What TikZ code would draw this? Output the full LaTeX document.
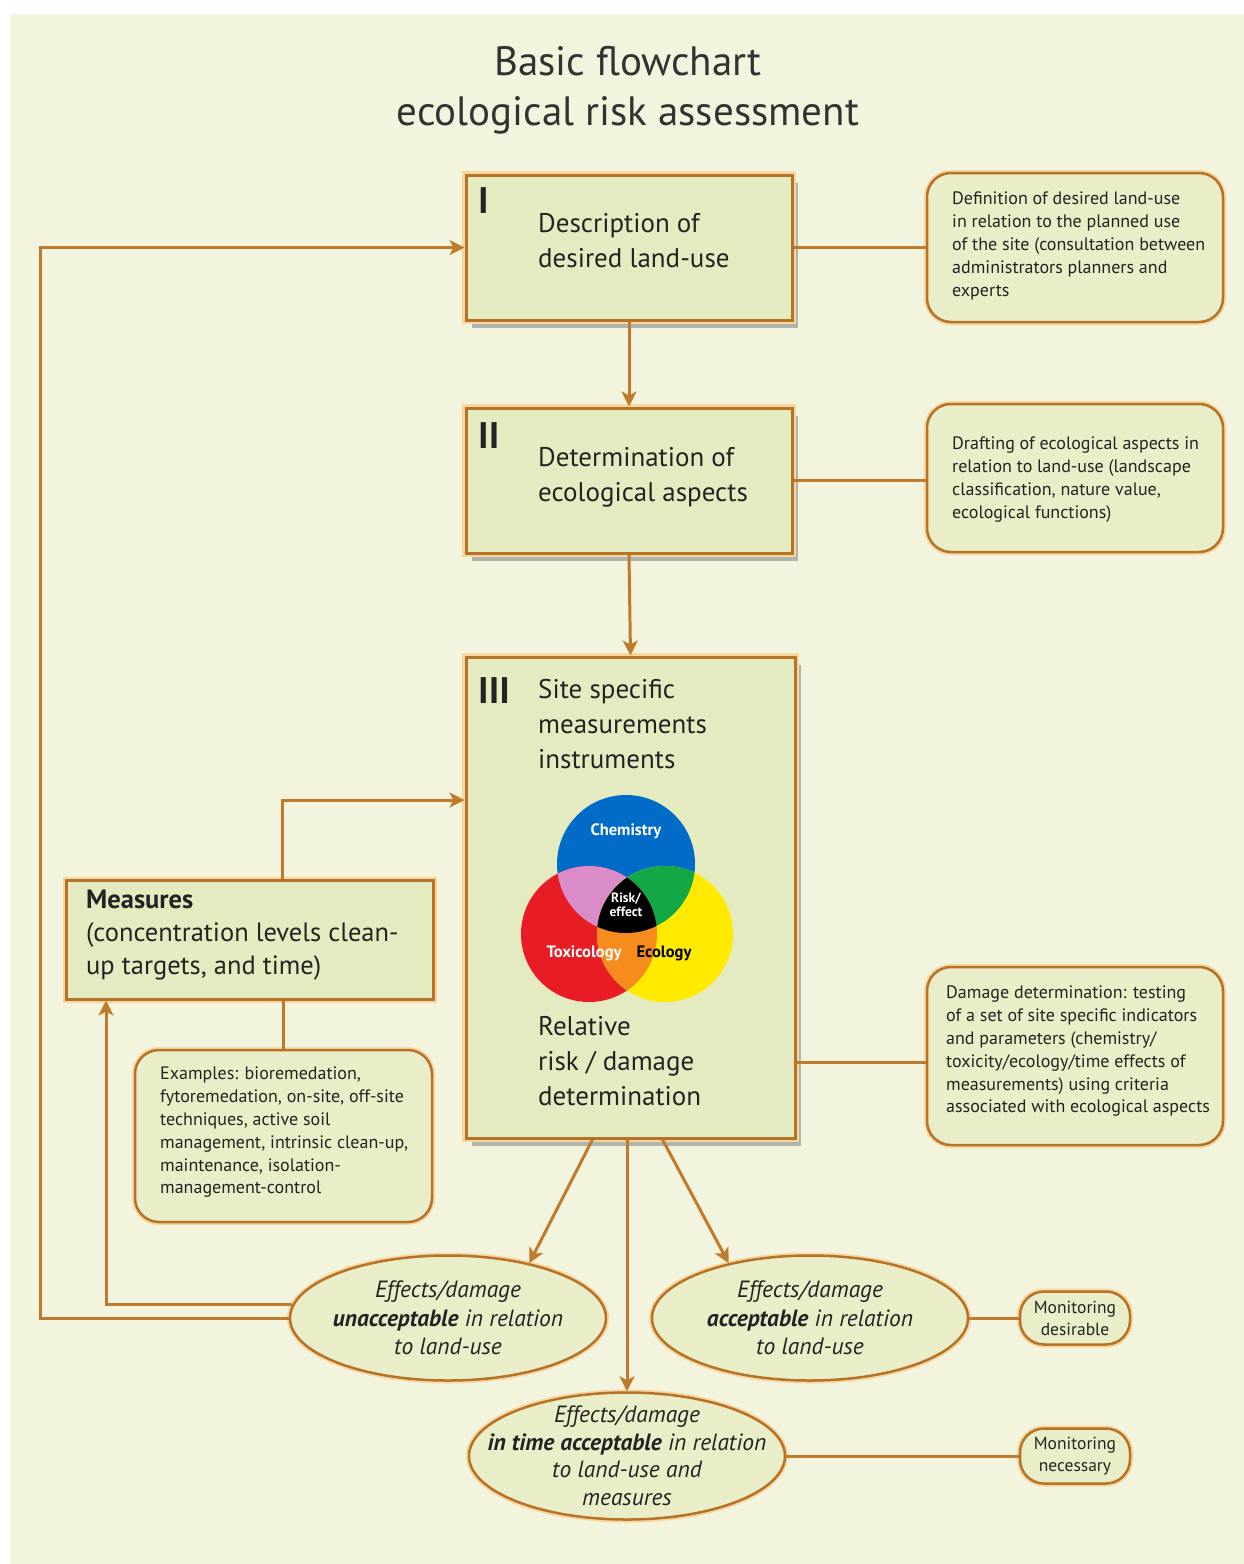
\documentclass[tikz,border=0pt]{standalone}
\usepackage{fontspec}
\setmainfont{PT Sans}
\usetikzlibrary{shapes.geometric,shadows,arrows.meta}
\definecolor{bgc}{RGB}{242,244,222}
\definecolor{boxfill}{RGB}{229,235,193}
\definecolor{sidefill}{RGB}{233,238,200}
\definecolor{brd}{RGB}{182,114,38}
\definecolor{arrc}{RGB}{192,122,44}
\definecolor{glow}{RGB}{248,214,160}
\definecolor{txt}{RGB}{35,35,35}
\definecolor{shad}{RGB}{95,105,115}
\definecolor{vblue}{RGB}{0,108,200}
\definecolor{vred}{RGB}{232,28,36}
\definecolor{vyellow}{RGB}{255,234,0}
\definecolor{vpink}{RGB}{218,140,200}
\definecolor{vgreen}{RGB}{18,168,70}
\definecolor{vorange}{RGB}{246,140,30}
\begin{document}
\begin{tikzpicture}[x=1pt,y=-1pt,
  mainbox/.style={rectangle, draw=brd, line width=3pt, fill=boxfill, inner sep=0pt,
    drop shadow={shadow xshift=6pt, shadow yshift=-8pt, opacity=0.45, fill=shad},
    preaction={draw=glow, line width=8pt}},
  sidebox/.style={rectangle, rounded corners=24pt, draw=brd, line width=2.5pt, fill=sidefill, inner sep=0pt,
    preaction={draw=glow, line width=6pt}},
  ellbox/.style={ellipse, draw=brd, line width=2.5pt, fill=sidefill, inner sep=0pt,
    preaction={draw=glow, line width=6pt}},
  elltxt/.style={inner sep=0pt, align=center, text=txt, font={\fontsize{23.5}{28.5}\selectfont\itshape}},
  monbox/.style={rectangle, rounded corners=24pt, draw=brd, line width=2.5pt, fill=sidefill, inner sep=0pt,
    align=center, text=txt, font={\fontsize{17.5}{22}\selectfont},
    preaction={draw=glow, line width=6pt}},
  bigtxt/.style={anchor=north west, inner sep=0pt, align=left, text=txt, font={\fontsize{27}{35}\selectfont}},
  numtxt/.style={anchor=north west, inner sep=0pt, text=txt, font={\fontsize{37}{37}\selectfont\bfseries}},
  smalltxt/.style={anchor=north west, inner sep=0pt, align=left, text=txt, font={\fontsize{18}{22.8}\selectfont}},
  conn/.style={draw=arrc, line width=3pt},
  arr/.style={conn, -{Stealth[length=15pt, width=15pt, inset=4pt]}},
  vlab/.style={inner sep=0pt, font={\fontsize{16.5}{17}\selectfont\bfseries}, align=center}
]
\useasboundingbox (0,0) rectangle (1244,1564);
\fill[white] (0,0) rectangle (1244,1564);
\fill[bgc] (10,14) rectangle (1244,1564);

% title
\node[align=center, inner sep=0pt, text={rgb,255:red,50;green,50;blue,50}, font={\fontsize{41}{50}\selectfont}] (title) at (628,90)
  {Basic flowchart\\ecological risk assessment};

% main boxes
\node[mainbox, minimum width=326, minimum height=145] (b1) at (629,247.5) {};
\node[mainbox, minimum width=326, minimum height=145] (b2) at (629,480.5) {};
\node[mainbox, minimum width=329, minimum height=481] (b3) at (630.5,897.5) {};

\node[numtxt] (n1) at (478,187) {I};
\node[bigtxt] (t1) at (538,213) {Description of\\desired land-use};
\node[numtxt] (n2) at (478,422) {II};
\node[bigtxt] (t2) at (538,447) {Determination of\\ecological aspects};
\node[numtxt] (n3) at (478,677) {III};
\node[bigtxt] (t3a) at (538,679) {Site specific\\measurements\\instruments};
\node[bigtxt] (t3b) at (538,1016) {Relative\\risk / damage\\determination};

% side boxes
\node[sidebox, minimum width=296, minimum height=149] (s1) at (1075,247.5) {};
\node[smalltxt] (st1) at (952,192) {Definition of desired land-use\\in relation to the planned use\\of the site (consultation between\\administrators planners and\\experts};
\node[sidebox, minimum width=296, minimum height=148] (s2) at (1075,478) {};
\node[smalltxt] (st2) at (952,437) {Drafting of ecological aspects in\\relation to land-use (landscape\\classification, nature value,\\ecological functions)};
\node[sidebox, minimum width=296, minimum height=178] (s3) at (1075,1056) {};
\node[smalltxt] (st3) at (946,986) {Damage determination: testing\\of a set of site specific indicators\\and parameters (chemistry/\\toxicity/ecology/time effects of\\measurements) using criteria\\associated with ecological aspects};

% measures
\node[rectangle, draw=brd, line width=3pt, fill=boxfill, inner sep=0pt, preaction={draw=glow, line width=7pt},
  minimum width=367, minimum height=119] (meas) at (249.5,939.5) {};
\node[anchor=north west, inner sep=0pt, align=left, text=txt, font={\fontsize{26.5}{33}\selectfont}] (mt) at (86,890)
  {\textbf{Measures}\\(concentration levels clean-\\up targets, and time)};
\node[sidebox, minimum width=297, minimum height=172] (ex) at (283.5,1136) {};
\node[smalltxt] (ext) at (160,1067) {Examples: bioremedation,\\fytoremedation, on-site, off-site\\techniques, active soil\\management, intrinsic clean-up,\\maintenance, isolation-\\management-control};

% Venn diagram
\fill[vblue] (626,864) circle (69);
\fill[vred] (589,934) circle (68);
\fill[vyellow] (665,934) circle (68);
\begin{scope}
  \clip (626,864) circle (69);
  \fill[vpink] (589,934) circle (68);
  \fill[vgreen] (665,934) circle (68);
\end{scope}
\begin{scope}
  \clip (589,934) circle (68);
  \fill[vorange] (665,934) circle (68);
  \clip (626,864) circle (69);
  \fill[black] (665,934) circle (68);
\end{scope}
\node[vlab, text=white] (vc) at (626,831) {Chemistry};
\node[vlab, text=white, font={\fontsize{13.5}{14.5}\selectfont\bfseries}] (vr) at (626,905) {Risk/\\effect};
\node[vlab, text=white] (vt) at (584,953) {Toxicology};
\node[vlab, text=black] (ve) at (664,953) {Ecology};

% ellipses
\node[ellbox, minimum width=316, minimum height=125] (e1) at (448,1318) {};
\node[elltxt] (e1t) at (e1.center) {Effects/damage\\\textbf{unacceptable} in relation\\to land-use};
\node[ellbox, minimum width=316, minimum height=125] (e2) at (810,1318) {};
\node[elltxt] (e2t) at (e2.center) {Effects/damage\\\textbf{acceptable} in relation\\to land-use};
\node[ellbox, minimum width=316, minimum height=127] (e3) at (627,1456) {};
\node[elltxt, font={\fontsize{23.5}{27.5}\selectfont\itshape}] (e3t) at (e3.center)
  {Effects/damage\\\textbf{in time acceptable} in relation\\to land-use and\\measures};
\node[monbox, minimum width=110, minimum height=53] (m1) at (1075,1318) {Monitoring\\desirable};
\node[monbox, minimum width=110, minimum height=55] (m2) at (1075,1456) {Monitoring\\necessary};

% connectors
\draw[arr] (b1.south) -- (b2.north);
\draw[arr] (b2.south) -- (b3.north);
\draw[conn] (b1.east) -- (s1.west);
\draw[conn] (b2.east) -- (b2.east -| s2.west);
\draw[conn] ([yshift=-6pt]s3.west) -- ([yshift=-6pt]s3.west -| b3.east);
\draw[arr] ([xshift=32.5pt]meas.north) |- ([yshift=97.5pt]b3.west);
\draw[conn] (ex.north) -- (ex.north |- meas.south);
\draw[arr] ([xshift=-38pt]b3.south) -- (e1.34);
\draw[arr] ([xshift=32pt]b3.south) -- (e2.146);
\draw[arr] (b3.south -| e3.north) -- (e3.north);
\draw[arr] (e1.west) -- ++(-248,0) |- (b1.west);
\draw[arr] (e1.175) -| ([xshift=-143.5pt]meas.south);
\draw[conn] (e2.east) -- (m1.west);
\draw[conn] (e3.east) -- (m2.west);
\end{tikzpicture}
\end{document}
